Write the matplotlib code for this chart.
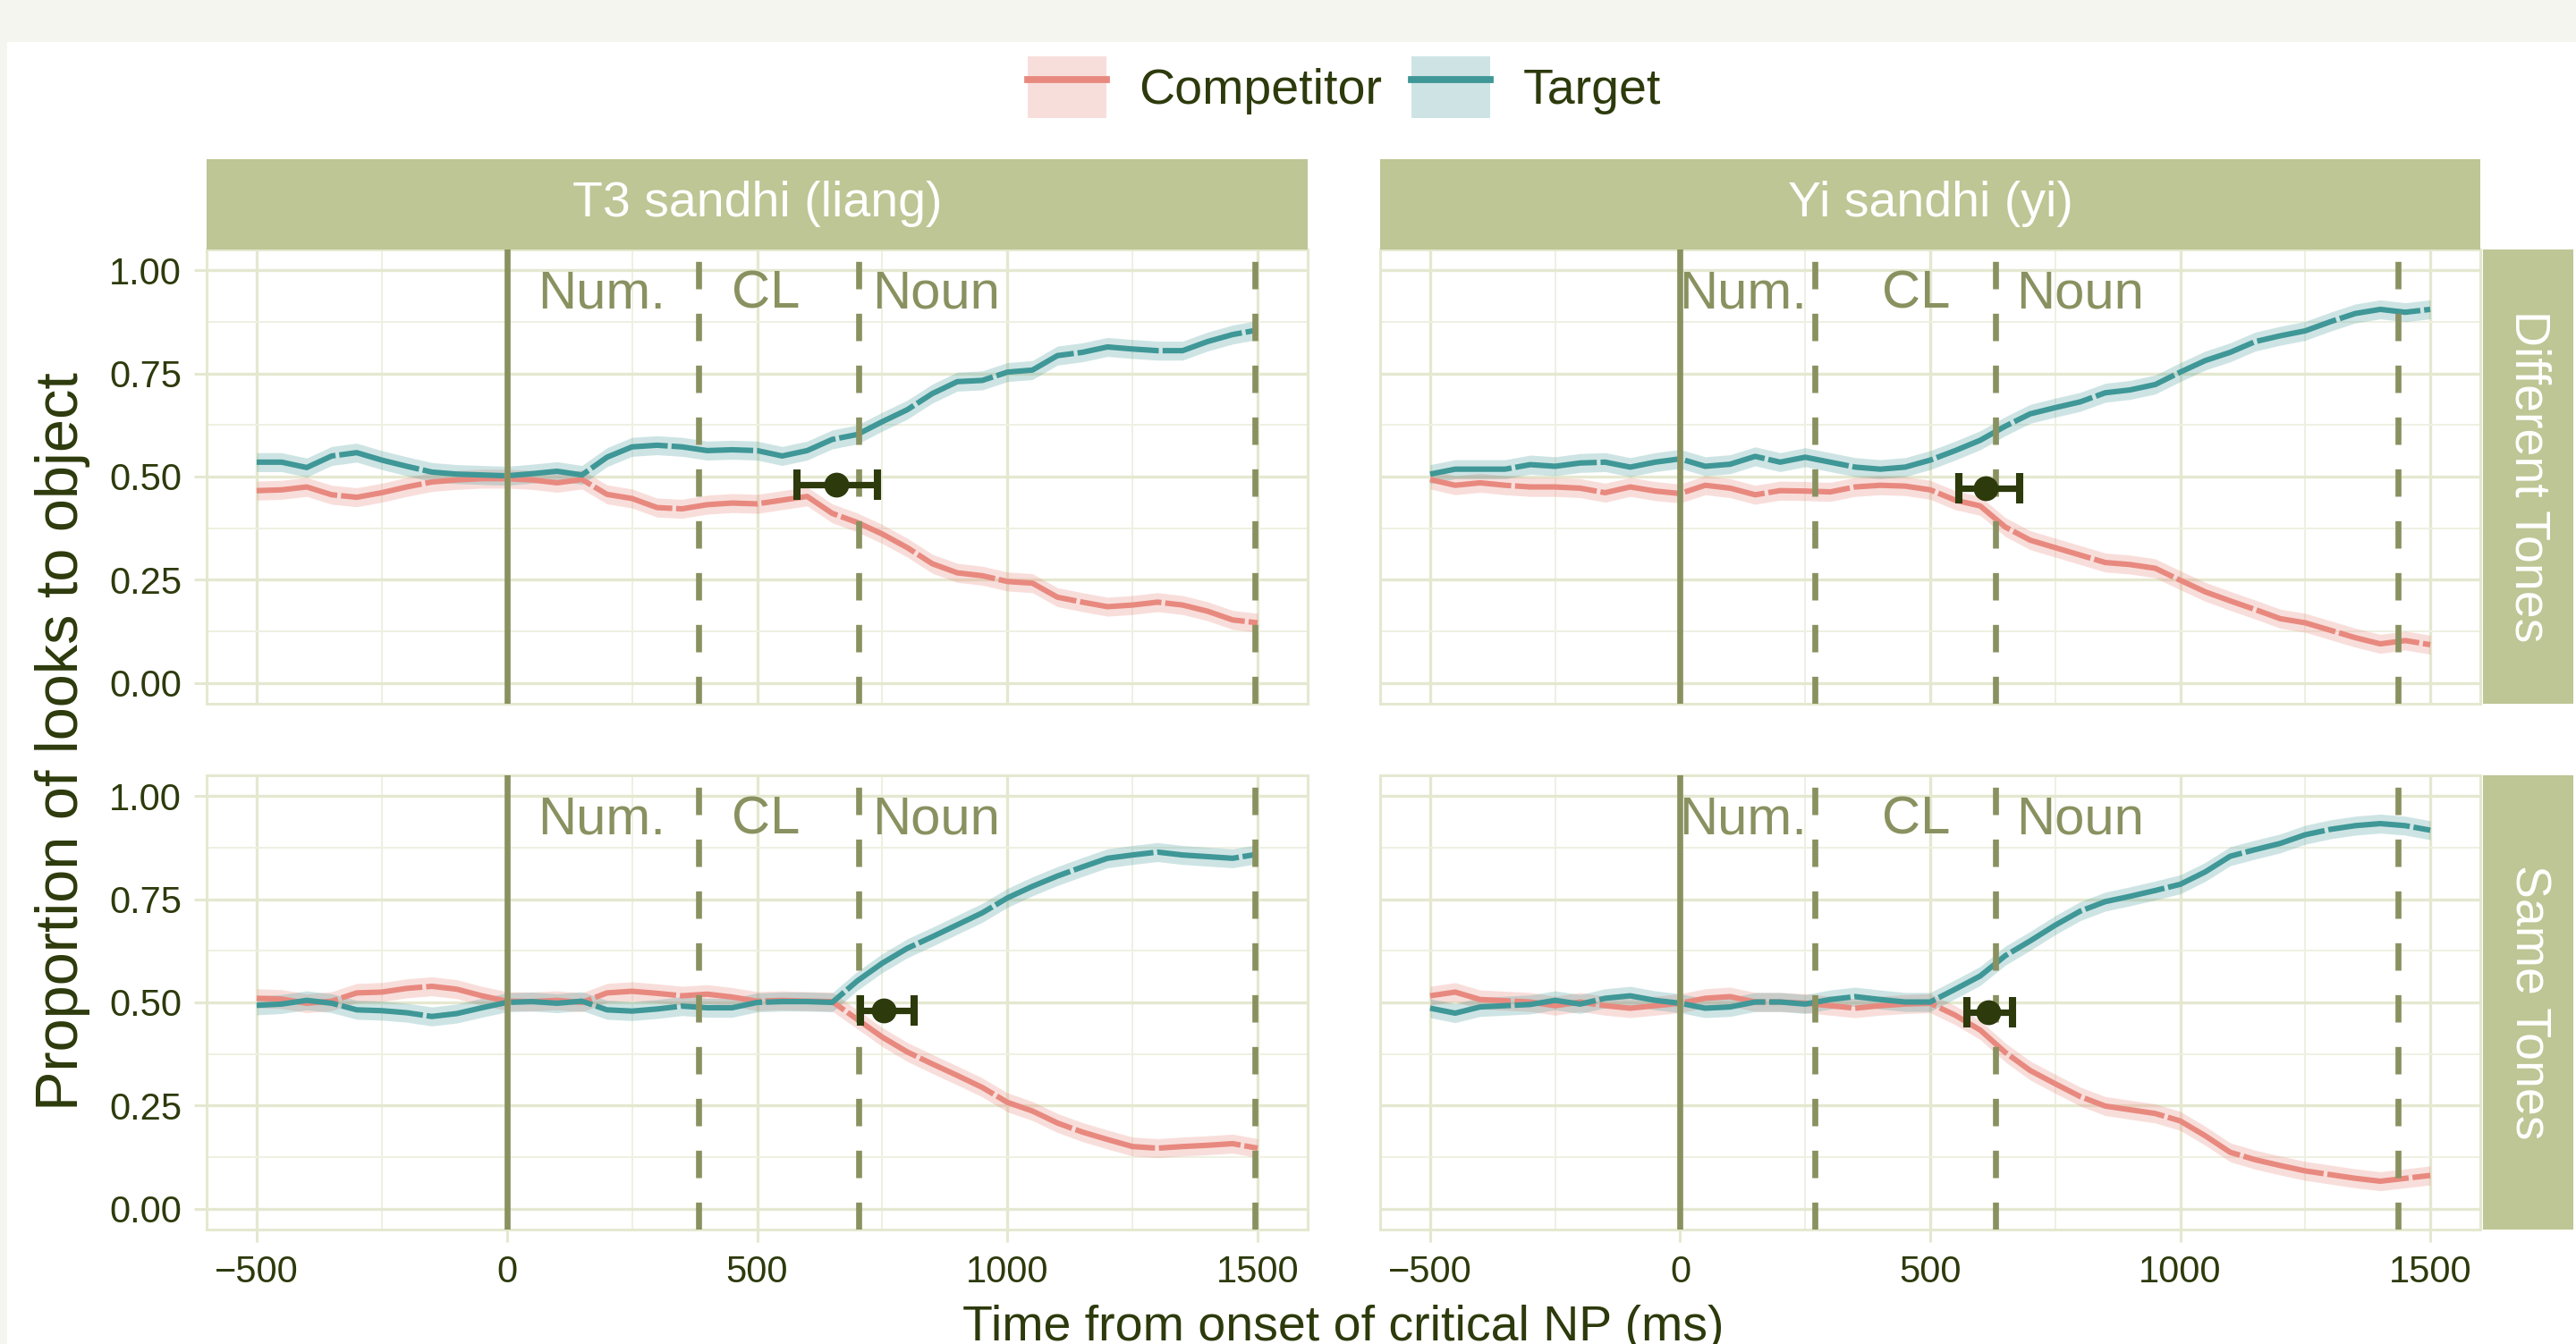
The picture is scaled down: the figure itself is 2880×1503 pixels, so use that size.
import numpy as np
import matplotlib
matplotlib.use("Agg")
import matplotlib.pyplot as plt
from matplotlib.patches import Patch, Rectangle
from matplotlib.lines import Line2D

plt.rcParams['font.family'] = ['Liberation Sans', 'DejaVu Sans']

# ---------------- data ----------------
time = list(range(-500, 1501, 50))

col_labels = ["T3 sandhi (liang)", "Yi sandhi (yi)"]
row_labels = ["Different Tones", "Same Tones"]
series_names = ["Competitor", "Target"]

tl_comp = [0.466,0.468,0.475,0.456,0.450,0.461,0.475,0.487,0.492,0.495,0.495,0.492,0.485,0.493,0.457,0.447,0.425,0.422,0.432,0.436,0.434,0.443,0.452,0.411,0.389,0.361,0.328,0.289,0.267,0.260,0.246,0.242,0.208,0.196,0.185,0.189,0.196,0.189,0.174,0.153,0.146]
tl_tgt = [0.535,0.535,0.522,0.550,0.558,0.540,0.525,0.511,0.506,0.504,0.502,0.507,0.513,0.504,0.547,0.572,0.576,0.572,0.563,0.565,0.563,0.550,0.563,0.590,0.602,0.633,0.662,0.701,0.730,0.733,0.753,0.758,0.793,0.801,0.814,0.809,0.805,0.805,0.827,0.844,0.855]
tr_comp = [0.493,0.479,0.485,0.479,0.475,0.475,0.472,0.461,0.475,0.465,0.459,0.479,0.472,0.456,0.466,0.465,0.463,0.475,0.479,0.477,0.468,0.443,0.429,0.378,0.346,0.328,0.310,0.292,0.287,0.278,0.249,0.221,0.199,0.178,0.156,0.146,0.128,0.110,0.095,0.103,0.093]
tr_tgt = [0.506,0.518,0.518,0.518,0.529,0.525,0.533,0.535,0.523,0.535,0.543,0.525,0.530,0.549,0.535,0.547,0.535,0.523,0.518,0.523,0.540,0.563,0.588,0.622,0.652,0.667,0.681,0.703,0.710,0.723,0.753,0.781,0.801,0.827,0.841,0.853,0.875,0.895,0.905,0.898,0.905]
bl_comp = [0.510,0.508,0.498,0.503,0.523,0.525,0.534,0.539,0.532,0.516,0.503,0.502,0.505,0.500,0.523,0.527,0.522,0.516,0.520,0.513,0.503,0.505,0.503,0.502,0.459,0.416,0.380,0.351,0.323,0.294,0.258,0.237,0.208,0.186,0.168,0.151,0.147,0.151,0.154,0.158,0.147]
bl_tgt = [0.493,0.496,0.505,0.498,0.482,0.480,0.475,0.466,0.473,0.487,0.500,0.502,0.498,0.503,0.482,0.479,0.484,0.491,0.487,0.487,0.500,0.502,0.502,0.500,0.552,0.595,0.631,0.659,0.688,0.717,0.753,0.781,0.806,0.828,0.849,0.857,0.864,0.857,0.853,0.849,0.859]
br_comp = [0.516,0.525,0.507,0.504,0.501,0.492,0.501,0.492,0.486,0.492,0.498,0.510,0.514,0.501,0.501,0.498,0.492,0.486,0.492,0.496,0.498,0.469,0.433,0.379,0.335,0.303,0.272,0.249,0.240,0.231,0.213,0.177,0.137,0.119,0.105,0.092,0.083,0.074,0.067,0.074,0.081]
br_tgt = [0.486,0.474,0.489,0.492,0.495,0.505,0.496,0.510,0.516,0.505,0.498,0.486,0.489,0.501,0.501,0.496,0.507,0.514,0.507,0.501,0.501,0.532,0.564,0.613,0.649,0.687,0.721,0.744,0.757,0.771,0.786,0.816,0.854,0.870,0.885,0.906,0.919,0.928,0.933,0.928,0.917]
ribbon_se = 0.023

# divergence point estimates: mean, lower, upper (ms), y position
div_mean = [[659, 610], [753, 616]]
div_lo = [[580, 558], [706, 574]]
div_hi = [[741, 679], [813, 664]]
div_y = [[0.48, 0.472], [0.48, 0.477]]

# word boundaries per column (ms)
onset_line = 0
word_bounds = [[383, 703, 1495], [270, 630, 1435]]
word_labels = ["Num.", "CL", "Noun"]
word_label_x = [[190, 518, 857], [126, 472, 799]]
word_label_y = 0.942

panel_data = [[(tl_comp, tl_tgt), (tr_comp, tr_tgt)],
              [(bl_comp, bl_tgt), (br_comp, br_tgt)]]

# ---------------- style ----------------
W, H = 2880, 1503
DPI = 200
comp_col = '#E8897F'
tgt_col = '#3F9797'
comp_fill_alpha = 0.28
tgt_fill_alpha = 0.25
dark = '#2D3A0C'
olive = '#8A9160'
strip_col = '#BDC694'
grid_major = '#E5E8D0'
grid_minor = '#EEF0E2'

fig = plt.figure(figsize=(W / DPI, H / DPI), dpi=DPI, facecolor='#F4F5EE')
fig.patches.append(Rectangle((8 / W, 0), 1 - 8 / W, 1 - 47 / H, transform=fig.transFigure,
                             facecolor='white', edgecolor='none', zorder=-5))


def rect(x0, y0, x1, y1):
    return [x0 / W, 1 - y1 / H, (x1 - x0) / W, (y1 - y0) / H]


col_x = [(231, 1462), (1543, 2773)]
row_y = [(279, 787), (867, 1375)]

line_dash = (0, (15, 0.7))

for r in range(2):
    for c in range(2):
        x0, x1 = col_x[c]
        y0, y1 = row_y[r]
        ax = fig.add_axes(rect(x0, y0, x1, y1))
        ax.set_facecolor('white')
        ax.set_xlim(-600, 1600)
        ax.set_ylim(-0.05, 1.05)
        ax.set_xticks([-500, 0, 500, 1000, 1500])
        ax.set_xticks([-250, 250, 750, 1250], minor=True)
        ax.set_yticks([0, 0.25, 0.5, 0.75, 1.0])
        ax.set_yticklabels(["0.00", "0.25", "0.50", "0.75", "1.00"])
        ax.set_yticks([0.125, 0.375, 0.625, 0.875], minor=True)
        ax.grid(which='major', color=grid_major, lw=1.2, zorder=0)
        ax.grid(which='minor', color=grid_minor, lw=0.7, zorder=0)
        ax.set_axisbelow(True)
        for s in ax.spines.values():
            s.set_color(grid_major)
            s.set_linewidth(1.1)
        ax.tick_params(which='major', length=5, width=1.1, color=grid_major,
                       labelsize=15, labelcolor=dark, pad=5)
        ax.tick_params(which='minor', length=0)
        if c == 1:
            ax.tick_params(which='both', left=False, labelleft=False)
        if r == 0:
            ax.tick_params(which='both', bottom=False, labelbottom=False)

        comp, tgt = panel_data[r][c]
        t = np.array(time)
        comp = np.array(comp)
        tgt = np.array(tgt)
        ax.fill_between(t, comp - ribbon_se, comp + ribbon_se, color=comp_col,
                        alpha=comp_fill_alpha, lw=0, zorder=2)
        ax.fill_between(t, tgt - ribbon_se, tgt + ribbon_se, color=tgt_col,
                        alpha=tgt_fill_alpha, lw=0, zorder=2)
        ax.plot(t, comp, color=comp_col, lw=2.2, ls=line_dash, zorder=3)
        ax.plot(t, tgt, color=tgt_col, lw=2.2, ls=line_dash, zorder=3)

        ax.axvline(onset_line, color=olive, lw=2.4, zorder=4)
        for b in word_bounds[c]:
            ax.axvline(b, color=olive, lw=2.4, ls=(0, (4.6, 4.1)), zorder=4)
        for lab, lx in zip(word_labels, word_label_x[c]):
            ax.text(lx, word_label_y, lab, color=olive, fontsize=21.5,
                    ha='center', va='center', zorder=5)

        m = div_mean[r][c]
        ax.errorbar([m], [div_y[r][c]],
                    xerr=[[m - div_lo[r][c]], [div_hi[r][c] - m]],
                    fmt='o', color=dark, ms=9, elinewidth=2.6, capsize=6,
                    capthick=2.9, zorder=6)

# strips
for c in range(2):
    x0, x1 = col_x[c]
    sax = fig.add_axes(rect(x0, 178, x1, 279))
    sax.set_facecolor(strip_col)
    sax.set_xticks([]); sax.set_yticks([])
    for s in sax.spines.values():
        s.set_visible(False)
    sax.text(0.5, 0.5, col_labels[c], color='white', fontsize=20,
             ha='center', va='center', transform=sax.transAxes)
for r in range(2):
    y0, y1 = row_y[r]
    sax = fig.add_axes(rect(2776, y0, 2877, y1))
    sax.set_facecolor(strip_col)
    sax.set_xticks([]); sax.set_yticks([])
    for s in sax.spines.values():
        s.set_visible(False)
    sax.text(0.5, 0.5, row_labels[r], color='white', fontsize=20, rotation=-90,
             ha='center', va='center', transform=sax.transAxes)

# axis titles
fig.text(1502 / W, 1 - 1499 / H, "Time from onset of critical NP (ms)",
         fontsize=20, color=dark, ha='center', va='baseline')
fig.text(70 / W, 1 - 829 / H, "Proportion of looks to object", fontsize=24,
         color=dark, rotation=90, ha='center', va='center')

# legend
handles = [(Patch(facecolor=comp_col, alpha=comp_fill_alpha, edgecolor='none'),
            Line2D([], [], color=comp_col, lw=2.8)),
           (Patch(facecolor=tgt_col, alpha=tgt_fill_alpha, edgecolor='none'),
            Line2D([], [], color=tgt_col, lw=2.8))]
fig.legend(handles, series_names, loc='center', bbox_to_anchor=(1503 / W, 1 - 97.5 / H),
           ncol=2, frameon=False, fontsize=20, handlelength=1.58, handleheight=1.56,
           handletextpad=0.65, columnspacing=0.6, labelcolor=dark)

fig.savefig("out.png", dpi=DPI, facecolor=fig.get_facecolor())
